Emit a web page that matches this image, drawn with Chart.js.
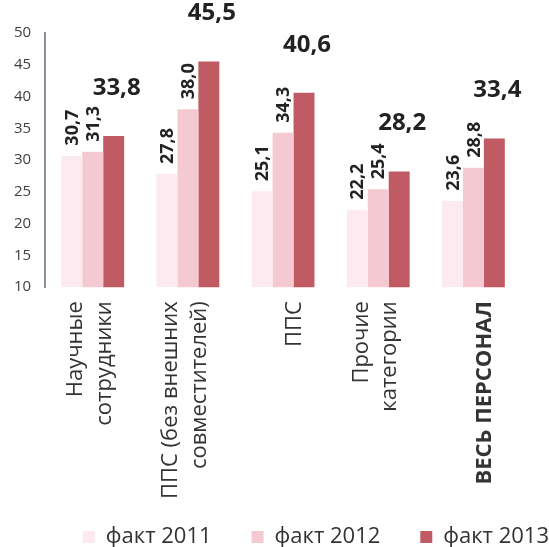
<!DOCTYPE html>
<html>
<head>
<meta charset="utf-8">
<script src="https://cdn.jsdelivr.net/npm/chart.js@4.4.1/dist/chart.umd.min.js"></script>
<style>
  html, body { margin: 0; padding: 0; background: #fff; }
  #wrap { width: 549px; height: 547px; position: relative; }
</style>
</head>
<body>
<div id="wrap"><canvas id="staffChart"></canvas></div>
<script>
// ── DATA ───────────────────────────────────────────
const categories = [
    ['Научные', 'сотрудники'],
    ['ППС (без внешних', 'совместителей)'],
    'ППС',
    ['Прочие', 'категории'],
    'ВЕСЬ ПЕРСОНАЛ'
];
const seriesNames = ['факт 2011', 'факт 2012', 'факт 2013'];
const fact2011 = [30.7, 27.8, 25.1, 22.2, 23.6];
const fact2012 = [31.3, 38.0, 34.3, 25.4, 28.8];
const fact2013 = [33.8, 45.5, 40.6, 28.2, 33.4];
const yTicks = [10, 15, 20, 25, 30, 35, 40, 45, 50];

const colors = ['#fdeaf1', '#f5c9d1', '#c05b64'];
const FONT = '"Open Sans", "DejaVu Sans", sans-serif';

const fmt = v => v.toFixed(1).replace('.', ',');

// ── VALUE LABELS (no datalabels plugin offline) ────
const valueLabels = {
    id: 'valueLabels',
    afterDatasetsDraw(chart) {
        const ctx = chart.ctx;
        chart.data.datasets.forEach((ds, di) => {
            const meta = chart.getDatasetMeta(di);
            meta.data.forEach((bar, i) => {
                const v = ds.data[i];
                ctx.save();
                ctx.fillStyle = '#222';
                if (di < 2) {
                    ctx.font = 'bold 18px ' + FONT;
                    ctx.translate(bar.x, bar.y - 10);
                    ctx.rotate(-Math.PI / 2);
                    ctx.textAlign = 'left';
                    ctx.textBaseline = 'middle';
                    ctx.fillText(fmt(v), 0, 1);
                } else {
                    ctx.font = 'bold 24px ' + FONT;
                    ctx.textAlign = 'center';
                    ctx.textBaseline = 'bottom';
                    ctx.fillText(fmt(v), bar.x + 3, bar.y - 36);
                }
                ctx.restore();
            });
        });
    }
};

// legend in the original is one wide row that runs to the right edge
const legendShift = {
    id: 'legendShift',
    afterLayout(chart) {
        const lg = chart.legend;
        lg.left += 68;
        lg.right += 68;
        lg.top -= 13;
        lg.lineWidths = [lg.lineWidths.reduce((a, b) => a + b, 0)];
    }
};

new Chart(document.getElementById('staffChart'), {
    type: 'bar',
    data: {
        labels: categories,
        datasets: [
            {label: seriesNames[0], data: fact2011, backgroundColor: colors[0]},
            {label: seriesNames[1], data: fact2012, backgroundColor: colors[1]},
            {label: seriesNames[2], data: fact2013, backgroundColor: colors[2]}
        ]
    },
    options: {
        responsive: true,
        maintainAspectRatio: false,
        animation: false,
        datasets: {bar: {barPercentage: 1, categoryPercentage: 0.66}},
        layout: {padding: {top: 33, right: 28, left: 0, bottom: 0}},
        plugins: {
            legend: {
                display: true,
                position: 'bottom',
                align: 'end',
                maxHeight: 48,
                labels: {
                    color: '#333',
                    boxWidth: 12,
                    boxHeight: 12,
                    padding: 40,
                    font: {size: 22, family: FONT}
                }
            },
            tooltip: {enabled: false}
        },
        scales: {
            x: {
                grid: {display: false, drawTicks: false},
                border: {display: false},
                afterFit: axis => {
                    axis.paddingLeft = 0;
                    axis.paddingRight = 0;
                    axis.height -= 14;
                },
                ticks: {
                    color: '#333',
                    padding: 14,
                    labelOffset: -17,
                    minRotation: 90,
                    maxRotation: 90,
                    autoSkip: false,
                    // single-line labels sit on the second line like in the original
                    callback: function (v, i) {
                        const l = this.getLabelForValue(v);
                        return Array.isArray(l) ? l : ['', l];
                    },
                    font: ctx => ({size: 22, family: FONT, lineHeight: 1.3, weight: ctx.index === 4 ? 'bold' : 'normal'})
                }
            },
            y: {
                min: yTicks[0],
                max: yTicks[yTicks.length - 1],
                grid: {display: false, drawTicks: false},
                border: {display: true, color: '#8c90a4', width: 2},
                afterBuildTicks: axis => { axis.ticks = yTicks.map(v => ({value: v})); },
                ticks: {
                    color: '#404040',
                    padding: 14,
                    font: {size: 15, family: FONT}
                }
            }
        }
    },
    plugins: [valueLabels, legendShift]
});
</script>
</body>
</html>
